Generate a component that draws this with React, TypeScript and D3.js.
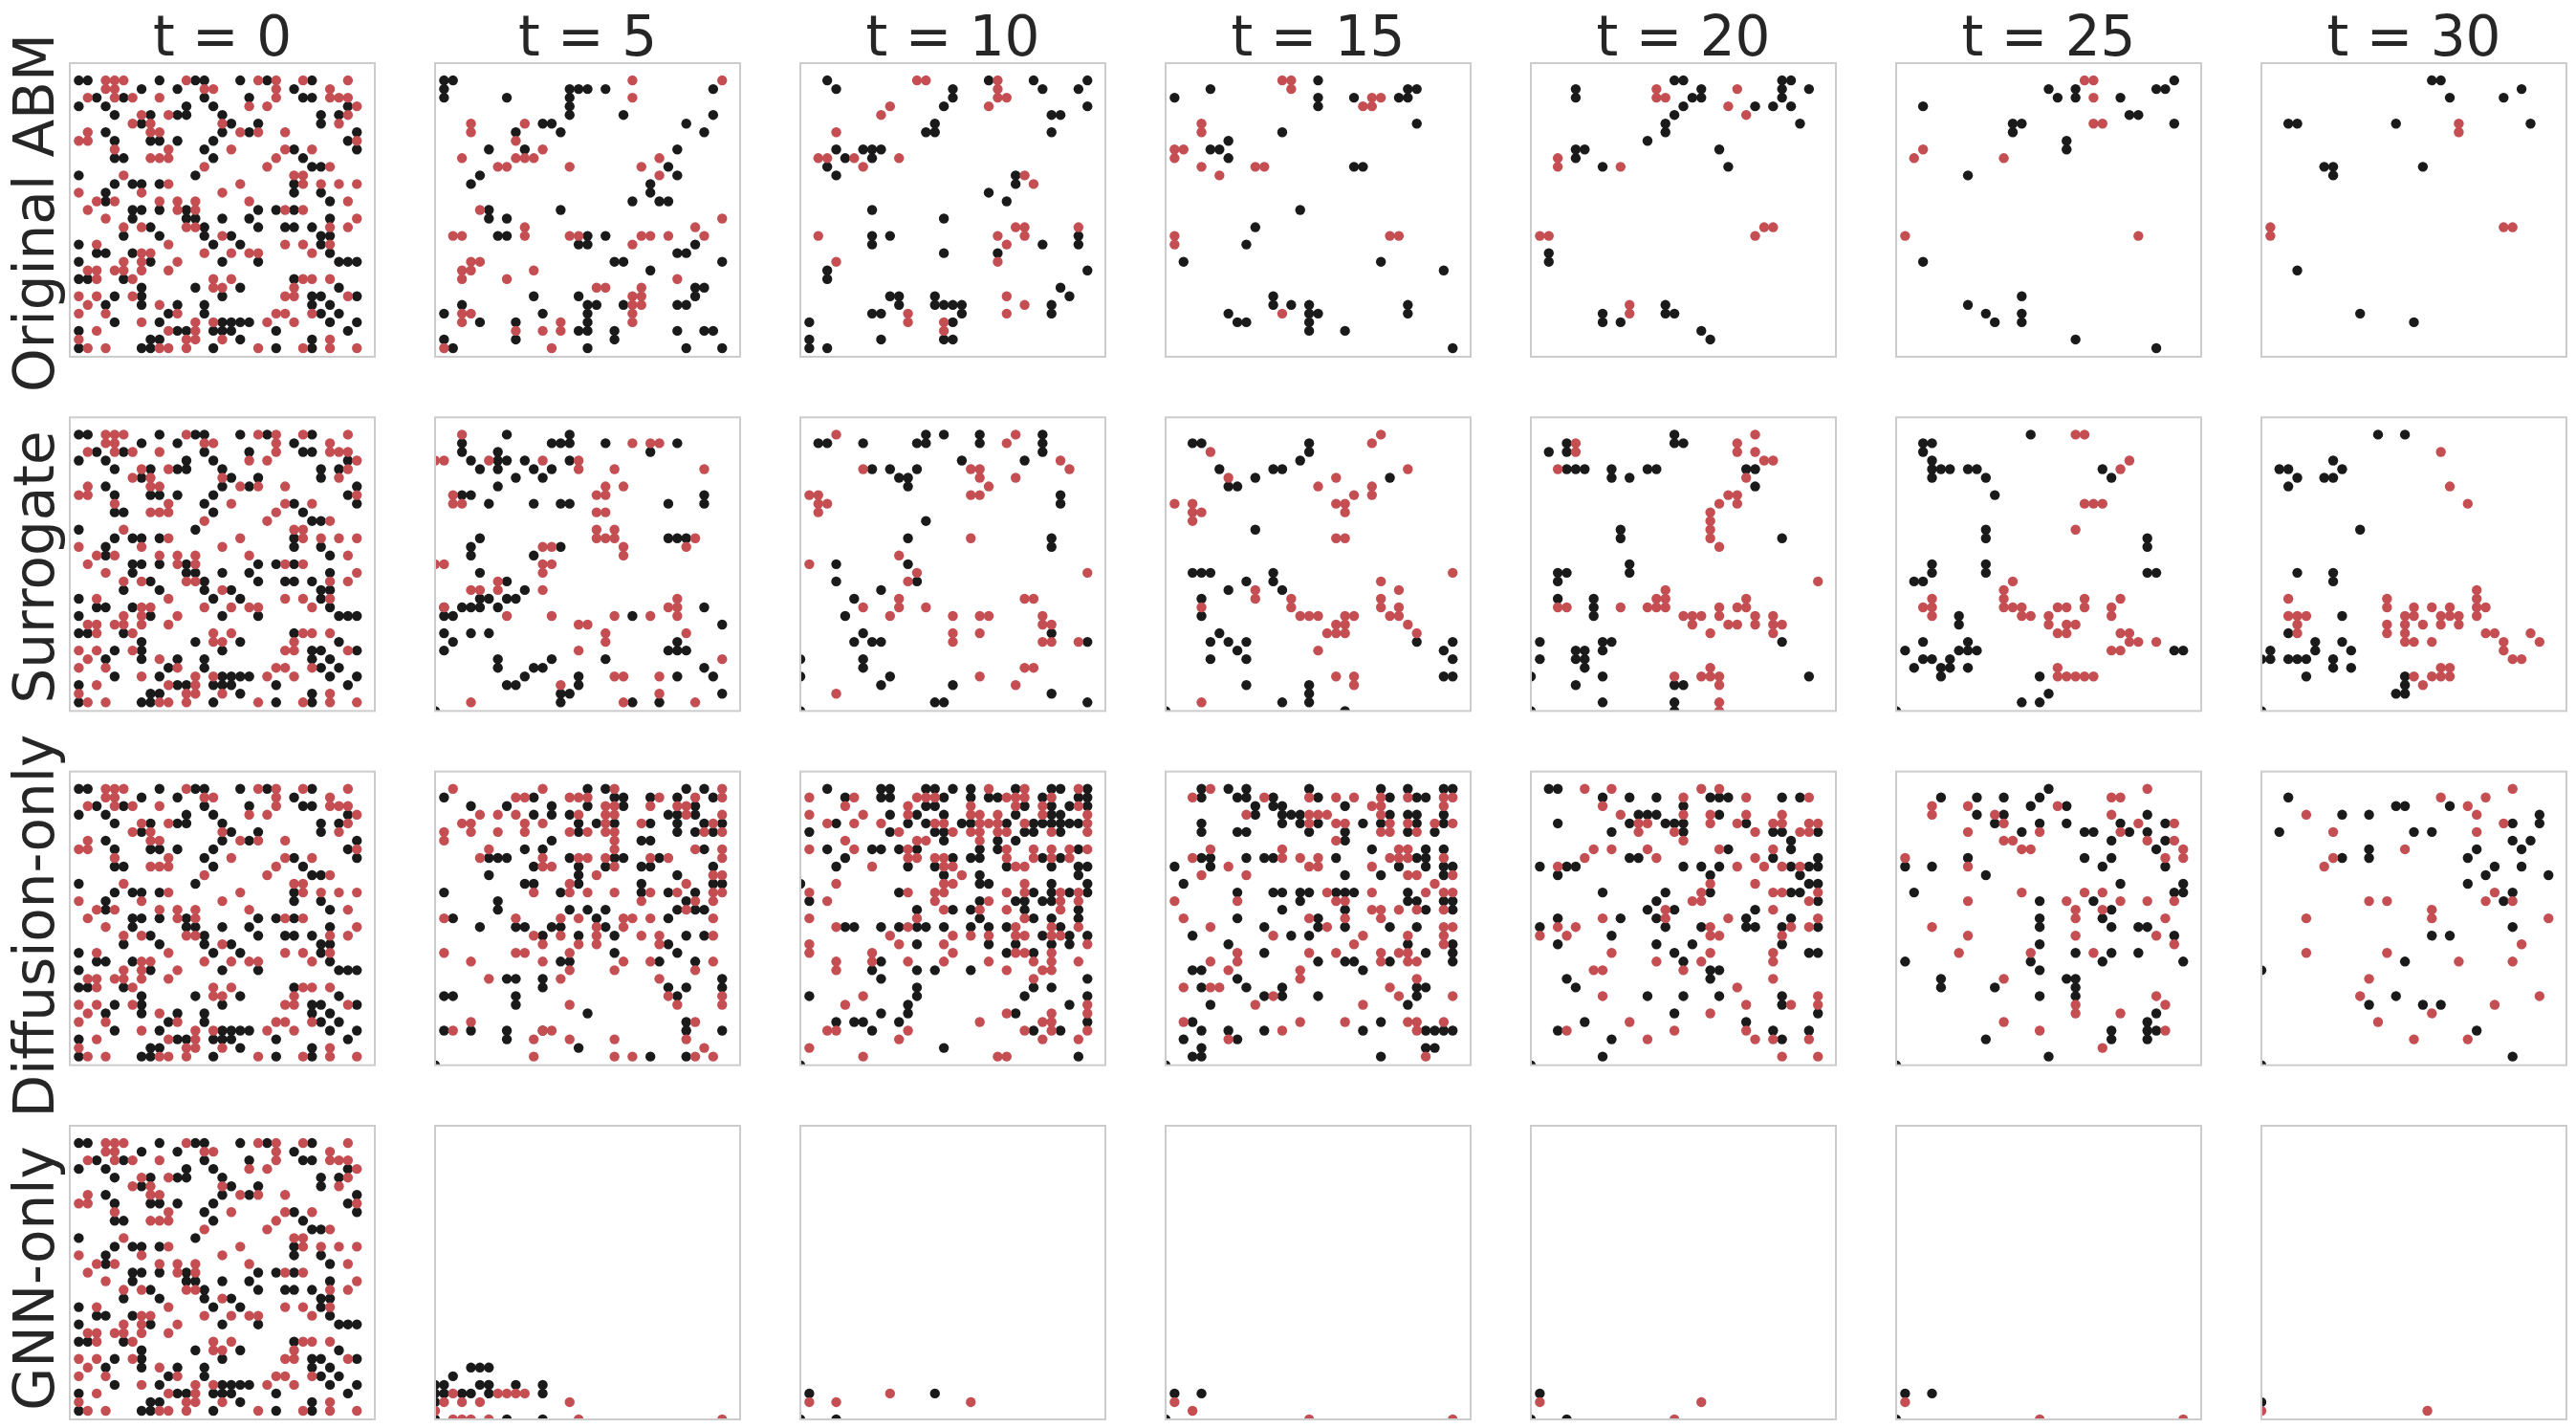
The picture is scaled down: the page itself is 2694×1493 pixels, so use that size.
import * as d3 from 'd3';

const width = 2694;
const height = 1493;

const times = [0, 5, 10, 15, 20, 25, 30];
const models = ['Original ABM', 'Surrogate', 'Diffusion-only', 'GNN-only'];
const labelShift = [3, 3, 8, 6];

// every list below is one lattice state: [row, col, col, ...], row 0 is the top row
const initialBlack = [[0,0,1,9,13,14,18,21,26],[1,7,11,24],[2,2,5,14,19,25,26],[3,0,3,12,15,30],[4,4,8,11,12,16,27,29],[5,7,17,20,27],[6,3,16,19,31],[7,4,8,9,11,15,30],[8,14,24,31],[9,4,5,15,25],[10,26,27],[11,0,13],[12,4,6,7,9,24],[13,3,24,27],[14,3,28],[15,6,7,9,12,20,22,24],[16,6,12,13,16,19,28],[17,8,14,20,23,24,26],[18,5,9,14,17,27,28],[19,0,15,18,27],[20,2,3,6,28],[21,0,8,16,20,29,30,31],[23,0,1,5,24],[24,7,13,18,29],[25,4,7,16,26,27,31],[26,3,7,11,14,26,28],[27,10,14,27,29],[28,4,9,16,17,18,19,28,31],[29,0,11,12,15,16,17,22,30],[30,8,9,18,26],[31,0,7,8,15,22,26]];
const initialRed = [[0,3,4,5,12,20,22,25,30],[1,3,4,14,15,22,28],[2,1,4,6,9,22,28,29,30],[3,19,21,31],[4,7,10,30],[5,6,8,16,29],[6,1,8,9,18,20,23],[7,0,1,31],[8,4,10,17,23,26],[9,8,9,10,22],[10,14,21,28],[11,5,24,25],[12,10,18,25,27,29,31],[13,0,7,16],[14,2,4,9,11,13,19,30],[15,1,11,13,23,25],[16,3,31],[17,5,7,12,13,28,30],[18,16],[19,2,10,23,25,28],[20,7,8,14,17,19,20,26],[21,5,7,11],[22,1,2,4,5,7,10],[23,2,6,15,17,25,26,28],[24,15,16,24],[25,0,2,6,23,24,30],[26,1,9],[27,0,3,11,22,23,26],[28,7,13,15,21,24],[29,2,10,13],[30,0,12,13,16,28],[31,1,3,9,10,12,20,25,28,31]];

// Original ABM
const abmBlack5 = [[0,0,1],[1,0,14,15,16,18,30],[2,0,7,14],[3,14],[4,14,20,30],[5,11,12,27],[6,8,13,29],[8,5,9,26],[10,25],[11,4,26],[12,3,23],[13,23],[14,21,24,25],[15,5,13],[16,5,7],[18,6,7,16,18],[19,15,16,28],[20,26,27],[21,19,20,31],[22,23],[24,28,29],[25,10,15,28],[26,2,16,17,20,26,27],[27,0,11,16],[28,4,8,16],[29,15,16,19,26,29,30],[30,0,8,19],[31,1,16,27,31]];
const abmRed5 = [[0,21,31],[2,21],[5,3,9],[6,3],[7,8],[8,11],[9,2,8,9,10,24],[10,6,7,14,22],[11,24],[15,4],[16,31],[17,9,28],[18,1,2,9,14,15,22,23,25,29],[19,21],[21,3,4],[22,2,3,10],[23,2,7,26],[24,17,18,22],[25,21,22],[26,21,22],[27,2,3,21],[28,2,13,21],[29,8,11,13],[31,0,12]];
const abmBlack10 = [[0,2,20,25,31],[1,3,16,26,30],[2,16],[3,15,31],[4,27,28],[5,14],[6,13,14,27],[8,3,6,7,8],[9,4,7],[10,2],[11,3,23],[12,23],[13,20],[14,22],[15,7],[16,15],[18,7,9,30],[19,7,26,30],[20,15,21],[22,2,31],[23,2],[24,28],[25,9,10,14,29],[26,10,14,15,16,17,27],[27,7,8,17,27],[28,0,16],[30,0,8,15,16],[31,0,2]];
const abmRed10 = [[0,12,13,21],[1,21],[2,21,22],[3,9,20],[4,8],[6,3],[9,1,2,5,10],[10,6],[11,24],[12,25],[17,23,24,30],[18,1,21,24],[19,22],[21,3,21],[25,22],[26,24],[27,11,22],[28,11,15],[29,15]];
const abmBlack15 = [[0,16],[1,4,26,27],[2,0,16,20,25,26],[3,16],[5,27],[6,12],[7,6],[8,4,5],[9,6],[10,20,21],[15,14],[17,9],[19,8],[21,1,23],[22,30],[25,11],[26,11,13,15,26],[27,6,15,16,26],[28,7,8,15],[29,15,19],[31,31]];
const abmRed15 = [[0,12,13],[1,13],[2,22,23],[3,21,22],[5,3],[6,3],[8,0,1],[9,0],[10,3,9,10],[11,5],[18,0,24,25],[19,0],[27,12]];
const abmBlack20 = [[0,15,16,27,28],[1,4,18,27,30],[2,4,17,18,27],[3,16,24,26,28],[4,15],[5,14,29],[6,14],[7,12],[8,4,5,20],[9,4],[10,7,21],[20,1],[21,1],[26,14],[27,7,14,15],[28,7,9],[29,18],[30,19]];
const abmRed20 = [[1,13,22],[2,13,14],[3,21],[4,23],[9,2],[10,2,9],[17,25,26],[18,0,1,24],[26,10],[27,10]];
const abmBlack25 = [[0,30],[1,16,19,28,29],[2,17,19,24],[3,2],[4,25,26],[5,12,13,30],[6,12],[7,18],[8,18],[11,7],[21,2],[25,13],[26,7],[27,9,13],[28,10,13],[30,19],[31,28]];
const abmRed25 = [[0,20,21],[2,21],[5,21,22],[8,2],[9,1,11],[18,0,26]];
const abmBlack30 = [[0,18,19],[1,28],[2,20,26],[5,2,3,14,29],[10,6,7,17],[11,7],[22,3],[27,10],[28,16]];
const abmRed30 = [[5,21],[6,21],[17,0,26,27],[18,0]];

// Surrogate
const surrogateBlack5 = [[0,7,14],[1,2,12,13,14,18,26],[2,2,6,23],[3,3,6,7,9,14],[4,4,6,10,12],[5,8,11],[6,6],[7,2,3,29],[8,5,10,13,14,25,29],[12,4,25,26,27],[13,3,13],[14,3,10],[16,4],[17,7],[18,9],[19,4,5,7,8],[20,0,2,3,4,6,29],[21,0,1,21],[22,31],[23,0,3,5],[24,1,26],[25,0,25,26,27],[26,6,12,18],[27,6,10,11,29],[28,9,15,26,30],[29,7,8,15],[30,13,14,31],[31,13,21,24],[32,-1]];
const surrogateRed5 = [[0,2],[1,21,23,24],[3,-1,0,5,11,15],[4,15,19,29],[6,18,20],[7,1,17,18],[8,1,2],[9,17,18],[11,17,19],[12,17,18,19,28],[13,11,12,20,27],[14,20],[15,-1,0,11,12],[16,11],[17,6],[18,3,4,6,11],[19,26],[20,0,25,26],[21,7,12,19,23,26],[22,15,16],[23,18,27],[24,18],[25,15],[26,31],[28,19,20,24],[29,13],[30,24],[31,3,20,28]];
const surrogateBlack10 = [[0,13,15,19,26],[1,1,2,6,12,13,19,26],[2,26],[3,17,24],[4,7,9,12],[5,10,11],[6,11],[7,28],[8,28],[10,13],[12,11,27],[13,27],[15,3,11],[17,3,12],[18,8],[19,5],[21,4],[23,6,27],[24,5,7,8,31],[26,-1,6],[27,6],[28,-1,9],[29,8,16],[30,27],[31,14,15,31],[32,-1]];
const surrogateRed10 = [[0,3,23],[1,22],[3,28],[4,6,18,19,29],[5,19,23],[6,20],[7,0,1,18,19],[8,1,2],[9,1],[12,18],[14,10],[15,0],[16,12,31],[17,11],[19,10,24,25],[20,6,10,13],[21,9,16,19,20,26],[22,26,27],[23,16,19],[24,16,26,27,30],[27,24,25],[28,19],[29,23],[30,3]];
const surrogateBlack15 = [[1,2,3,15],[2,15],[3,14],[4,5,11,12],[5,9,24],[6,6,7],[11,9],[16,2,3,4,11],[17,8,11],[18,6,12],[19,3],[21,3],[23,5],[24,4,6,8,27,31],[25,7,30],[26,4,8,31],[28,30,31],[29,8,15],[30,15],[31,12,15],[32,-1,19]];
const surrogateRed15 = [[0,23],[1,22],[2,4],[4,26],[5,6,18],[6,16,22],[7,20,22],[8,0,2,18,19],[9,2,3,19],[10,2],[12,18,19],[16,31],[17,23],[18,9,25],[19,9,13,23],[20,3,13,23,25],[21,14,15,16,19,20,24,25],[22,18,19,26],[23,17,18,19,27],[25,16],[28,18,20],[29,20],[31,3]];
const surrogateBlack20 = [[0,15],[1,3,15,16],[2,1,3],[4,3,4,5,8,12,13,23,24],[5,8,10],[6,24],[11,9],[12,9,27],[15,10],[16,2,3,10],[17,2],[19,2,6],[20,6],[21,6],[24,0,7,8,27],[25,4,5,7],[26,0,4,5],[27,5],[28,-1,7,30],[29,4,15,16],[31,7,15],[32,-1,15]];
const surrogateRed20 = [[0,24],[1,4,22],[2,4,22,24],[3,25,26],[4,2],[5,23],[7,21,22],[8,20,22],[9,19],[10,19],[11,19],[12,19],[13,20],[17,31],[18,14],[19,13,14,23],[20,2,3,9,12,13,14,20,22,23],[21,16,17,18,20,24,26],[22,17,21,22,24,26,27],[23,19,26],[27,19],[28,15,18,19,20],[29,20],[31,20],[32,20]];
const surrogateBlack25 = [[0,14],[1,2,3],[2,2],[3,3],[4,3,4,5,7,8,22],[5,3,9,23],[7,10],[11,9],[12,9,27],[13,27],[15,3,9],[16,3,9,27,28],[17,1,2],[21,6],[22,6],[24,2,7],[25,0,6,7,8,30,31],[26,2,3,5],[27,1,4,5,7],[28,4,15],[30,16],[31,13,15],[32,-1]];
const surrogateRed25 = [[0,19,20],[3,25],[4,24],[8,20,21,22],[11,19],[17,12],[18,11],[19,3,11,20,24],[20,2,3,11,12,13,17,18,20,23],[21,3,13,14,16,23],[22,16,18,19],[23,17,18,24,25],[24,25,26,28],[25,23,24],[27,17],[28,17,18,19,20,21]];
const surrogateBlack30 = [[0,12,15],[3,7],[4,1,2,8],[5,3,6,7],[6,2],[11,10],[16,3,7],[17,7],[21,8],[23,2],[24,5,8],[25,0,5,9],[26,-1,0,2,3,4,7],[27,7,9],[28,4,15],[29,15],[30,14,15],[32,-1]];
const surrogateRed30 = [[2,19],[6,20],[8,22],[18,23],[19,2,13,23],[20,13,16,18,20,23,24],[21,2,3,4,15,16,19,20,21,23],[22,3,13,15,17,19,21],[23,3,13,15,24,25,29],[24,15,16,18,26,30],[25,26],[26,27,28],[27,19,20],[28,16,18,19,20],[29,17]];

// Diffusion-only
const diffusionBlack5 = [[0,16,18,27,29],[1,0,10,19,20,23,26,30],[2,3,7,12,16,20,28],[3,10,12,14,25,26,28],[4,15,17,19,23,26,29,31],[5,15,26,28,30],[6,12,22,23],[7,9,11,29],[8,5,6,7,14,19,20,24],[9,10,15,18,22,23,30],[10,5,15,26],[11,9,10,15,22,30,31],[12,0,13,22,25,28],[13,6,27],[14,6,14,16,18,26,28,29],[15,1,17,25],[16,4,8,9,12,13,18],[17,11,15,19,27,29],[18,25],[19,19,26],[20,13,14,24,28],[22,7,8,11,31],[23,11,25,27,31],[24,0,1,8,26],[25,8],[26,16],[27,27],[28,0,3,7,11,27,31],[29,7],[30,15],[31,23,27],[32,-1]];
const diffusionRed5 = [[0,1,11,19,31],[1,8,9,14,15,16,24,28,31],[2,18,19,23,26,27],[3,4,6,8,15,18,19,27,31],[4,2,3,9,11,18,22,30],[5,0,3,6,9,14,16,18,19,29,31],[6,0,19],[7,5,19,28,31],[8,4,11,15,16,18,23,25,31],[9,11,12,19],[10,17,30,31],[11,14,27],[12,10,14,16,19,23,26,30,31],[13,22,28,30],[14,27],[15,0,8,13,15,20,21,23,30],[16,17,20],[17,10,13,17,22,24,30],[18,11,15,17,24],[19,0,8,9,14],[20,3,11,20,23,30],[21,14,19,28],[22,5,13,24],[24,25,31],[25,14,26,31],[27,3,28],[28,1,11,12],[29,10,14,19,27],[30,29],[31,10,19,21,28,30]];
const diffusionBlack10 = [[0,2,8,9,13,14,16,18,23,27,28,31],[1,4,8,9,15,18,20,21,26,30,31],[2,13,14,24,27,29,31],[3,9,12,15,23,27,28],[4,3,11,13,17,18,22,25,26,27,28,29,30],[5,0,9,14,15,24,25,28],[6,15,21,23],[7,2,7,8,10,12,19,21,30],[8,4,16,18,19,26,28],[9,3,11,14,22,27,30,31],[10,15,19,30],[11,-1,19,20,27,31],[12,10,25,27,29,31],[13,0,19,23,24,26,27],[14,12,16,18,24,30],[15,19,25,27,30],[16,4,5,8,10,12,13,15,18,20,22,28],[17,26,29,31],[18,12,20,23,27,29],[19,22,25],[20,8],[21,7,12,14,18],[22,8,31],[23,12,25,27],[24,0,12,24,31],[25,11,29],[26,8,11,23],[27,3,5,6,10,31],[28,7,25,28],[30,15],[31,30],[32,-1]];
const diffusionRed10 = [[0,20,24,30],[1,0,5,12,13,14,22,23,24,27],[2,4,11,18,23,26,30],[3,0,6,11,18,19,21,26,31],[4,2,5,8,14,15,19,20,21,24,31],[5,10,16,18,19,21,22,27,31],[6,4,12,13,19],[7,0,5,11,22,25,27,29,31],[8,11,12,14,15,22,25,27,29],[9,7,15,16,23,24],[10,17],[11,3,15,16,24],[12,0,11,14,15,22,24,28,30],[13,2,14,20,28,30],[14,15,19,22,28],[15,0,12,24],[16,3,11,23,27,30],[17,9,16,18,20,23,24,27,28],[18,0,10,15,31],[19,0,7,16,23,24,27],[20,3,7,11,15,20,25,27,30],[21,3,22,26,27],[22,25],[24,6],[25,4,31],[26,22,27,31],[27,19,26,27],[28,2,3,11,24,27,31],[29,10,26,30],[30,0],[31,6,21,22]];
const diffusionBlack15 = [[0,3,6,8,15,23,26,30,31],[1,3,7,8,11,16,24,27,28],[2,9,11,12,19],[3,9,12,13,14,24,26,27,30],[4,3,12,14,16,21,23,27,30],[5,3,7,8,15,19,26,29],[6,19],[7,22,28,30],[8,3,4,8,10,11,18,27,28],[9,0,4,25,28,30,31],[10,19,23,30],[11,1],[12,7,11,12,14,15,18,19,20,26],[13,14,26,27,30,31],[14,12,19,28,31],[15,7,16],[16,10,16,19,24,27],[17,2,13,15],[18,6,26,31],[19,10,28,31],[20,16,19,20,24,31],[21,2,3,21],[22,7],[23,3,8,12,27,28],[24,10,12,16,27],[25,4,26],[27,2,23],[28,3,6,10,21,28,29,30,31],[29,1,7],[30,3,28,29],[31,2,3,23],[32,-1]];
const diffusionRed15 = [[0,4],[1,2,10,15,18,20,23,26,30,31],[2,22,23,30],[3,8,15,16,17,23],[4,15,18,19,24,26,29,31],[5,23,24,27],[6,18],[7,4,12,25,26],[8,2,12,14,16,24,25,26,30],[9,6,15,16,22],[10,3,8,26,27,31],[11,29],[12,17,22,28,30,31],[13,0,7,18,19],[14,22,23,25,27,30],[15,1,15,19,23],[16,4,17,30,31],[17,11,21,26,30],[18,20,30],[19,7,15,18,23,25,26],[20,4,7,23,26,27],[21,6,14],[22,14,27],[23,1,4,5,24],[24,11,25,31],[25,9,21],[27,1,14,19,26,27,30],[28,12,27],[29,6],[31,28]];
const diffusionBlack20 = [[0,1,2],[1,7,10,13,19,20,21,27,29],[2,16],[3,11,12,13,20],[4,2,10,14,15,16,23],[5,8,16,26,27,31],[6,28],[7,21,28],[8,10,11,26,31],[9,0,3,4,16,18,20,28,30,31],[10,2,19,29],[11,30,31],[12,7,14,19,28,29],[13,13,31],[14,12,15,24],[15,2,9,13,23,28],[16,0,14,18,23,24,27,31],[17,8],[18,2,13,17,27],[19,15,30,31],[20,16],[21,19,20],[22,3,19],[23,4],[24,12,16,20,27],[25,27],[26,15,31],[27,5,23],[28,2,26,30],[29,8,27],[31,7],[32,-1]];
const diffusionRed20 = [[0,5,8,18,20],[1,16,23,30],[2,7],[3,9,16,19,23,27],[4,11,12,19,22,26,27,30,31],[5,11,15,24,29,30],[6,16],[7,6,8,12,20,26],[8,5,13,24],[9,2,22,25,27,29],[11,19,24],[12,18,26,27,31],[13,17,18,30],[14,14,26],[15,7,14,21,31],[16,2,4,19,28,30],[17,0,3,19,20,27],[19,8,19,26],[20,13,18,26],[21,6,7,16],[22,26],[23,22],[24,7,31],[25,23,28,31],[26,19],[27,10],[28,3,15,23],[29,12,24,26,30],[31,27,31]];
const diffusionBlack25 = [[0,16],[1,4,8,11,15],[2,14,18],[3,8,11,27],[4,10,15,18,24,29],[5,13,20,21,25,27],[6,23,29],[7,28],[8,7,20,23],[9,0,3,22,29],[10,9],[11,24,31],[12,1,30,31],[13,15,21],[14,23],[15,15,22],[16,15,23,26,27],[17,30],[18,15],[19,19,23,26],[20,0,14,22,31],[21,15],[22,4,18,19],[23,4,10,19],[24,15,19],[26,28],[27,27],[28,23,27,28],[29,9,23,27],[31,16],[32,-1]];
const diffusionRed25 = [[0,27],[1,23,24],[2,3,7,17],[3,3,10,23],[4,11,26,30],[5,7,15,24],[6,11,12,27,30],[7,13,14,31],[8,0,29,31],[9,7],[12,13,20,22],[13,7,18,24,27,30],[14,19,22],[15,19,29],[16,3],[17,7,19,28],[18,30],[19,6,14,21],[22,11],[24,28],[25,19,29],[26,19,24],[27,11],[28,15,29],[30,22]];
const diffusionBlack30 = [[1,2],[2,14,15,20],[3,8,11,30],[4,27,30],[5,1,16,18],[6,27,29],[7,11,23,28],[8,8,11,22],[9,25,28],[10,24,31],[11,22],[12,27],[13,26],[16,27],[17,18,20],[20,15],[21,-1],[24,14],[25,11,17,19],[28,23],[31,27],[32,-1]];
const diffusionRed30 = [[0,27],[1,19,24],[2,22],[3,4,23],[4,26],[5,7,23],[7,15],[8,7],[9,6],[12,25],[13,11,13,24,27],[14,18],[15,4,18,31],[18,28],[19,4,13],[20,21,27],[22,11],[24,10,30],[25,25],[26,18],[27,12],[29,16,22]];

// GNN-only
const gnnBlack5 = [[26,3,4,5],[27,1],[28,-1,0,4,5,8,11],[29,-1,0,2,3,5,11],[30,-1],[32,-1,7,11]];
const gnnRed5 = [[29,1,6,7,8,9],[30,0,2,4,14],[31,-1],[32,1,2,3,5,15,31]];
const gnnBlack10 = [[29,0,14],[32,-1,3]];
const gnnRed10 = [[29,9],[30,0,3,18]];
const gnnBlack15 = [[29,0,3],[32,-1]];
const gnnRed15 = [[30,0],[31,2],[32,15,31]];
const gnnBlack20 = [[29,0],[32,-1,3]];
const gnnRed20 = [[30,0,18],[32,15]];
const gnnBlack25 = [[29,0,3],[32,-1]];
const gnnRed25 = [[30,0],[32,15,31]];
const gnnBlack30 = [[30,-1]];
const gnnRed30 = [[31,-1,17.5]];

const blackStates = [
  [initialBlack, abmBlack5, abmBlack10, abmBlack15, abmBlack20, abmBlack25, abmBlack30],
  [initialBlack, surrogateBlack5, surrogateBlack10, surrogateBlack15, surrogateBlack20, surrogateBlack25, surrogateBlack30],
  [initialBlack, diffusionBlack5, diffusionBlack10, diffusionBlack15, diffusionBlack20, diffusionBlack25, diffusionBlack30],
  [initialBlack, gnnBlack5, gnnBlack10, gnnBlack15, gnnBlack20, gnnBlack25, gnnBlack30],
];
const redStates = [
  [initialRed, abmRed5, abmRed10, abmRed15, abmRed20, abmRed25, abmRed30],
  [initialRed, surrogateRed5, surrogateRed10, surrogateRed15, surrogateRed20, surrogateRed25, surrogateRed30],
  [initialRed, diffusionRed5, diffusionRed10, diffusionRed15, diffusionRed20, diffusionRed25, diffusionRed30],
  [initialRed, gnnRed5, gnnRed10, gnnRed15, gnnRed20, gnnRed25, gnnRed30],
];

const cells = (rows: number[][]) =>
  rows.flatMap(([row, ...cols]) => cols.map((col) => [col, row]));

const panelW = 319;
const panelH = 307;
const black = '#1a1a1a';
const red = '#c44e52';
const ink = '#262626';
const font = '"DejaVu Sans", sans-serif';

// lattice axes run a little past the 32 cells, as in the source figure
const xCell = d3.scaleLinear().domain([-1, 33]).range([0, panelW]);
const yCell = d3.scaleLinear().domain([-2, 32]).range([0, panelH]);
const xPanel = d3.scalePoint<number>().domain(times).range([73, 2365]);
const yPanel = d3.scalePoint<string>().domain(models).range([66, 1177]);

function Panel({ clip, blackRows, redRows }: { clip: string; blackRows: number[][]; redRows: number[][] }) {
  return (
    <>
      <clipPath id={clip}>
        <rect width={panelW} height={panelH} />
      </clipPath>
      <g clipPath={`url(#${clip})`}>
        {cells(blackRows).map(([c, r]) => (
          <circle key={`b${c}-${r}`} cx={xCell(c)} cy={yCell(r)} r={5.2} fill={black} />
        ))}
        {cells(redRows).map(([c, r]) => (
          <circle key={`r${c}-${r}`} cx={xCell(c)} cy={yCell(r)} r={5.2} fill={red} />
        ))}
      </g>
      <rect width={panelW} height={panelH} fill="none" stroke="#cccccc" strokeWidth={2} />
    </>
  );
}

export default function App() {
  return (
    <svg
      width={width}
      height={height}
      viewBox={`0 0 ${width} ${height}`}
      style={{ position: 'absolute', left: 0, top: 0, background: '#fff' }}
    >
      {times.map((t) => (
        <text
          key={t}
          x={xPanel(t)! + panelW / 2}
          y={58}
          textAnchor="middle"
          fontFamily={font}
          fontSize={58}
          fill={ink}
        >
          {`t = ${t}`}
        </text>
      ))}
      {models.map((m, i) => (
        <g key={m}>
          <text
            transform={`translate(56,${yPanel(m)! + panelH / 2 + labelShift[i]}) rotate(-90)`}
            textAnchor="middle"
            fontFamily={font}
            fontSize={58}
            fill={ink}
          >
            {m}
          </text>
          {times.map((t, j) => (
            <g key={t} transform={`translate(${xPanel(t)},${yPanel(m)})`}>
              <Panel clip={`clip-${i}-${j}`} blackRows={blackStates[i][j]} redRows={redStates[i][j]} />
            </g>
          ))}
        </g>
      ))}
    </svg>
  );
}
